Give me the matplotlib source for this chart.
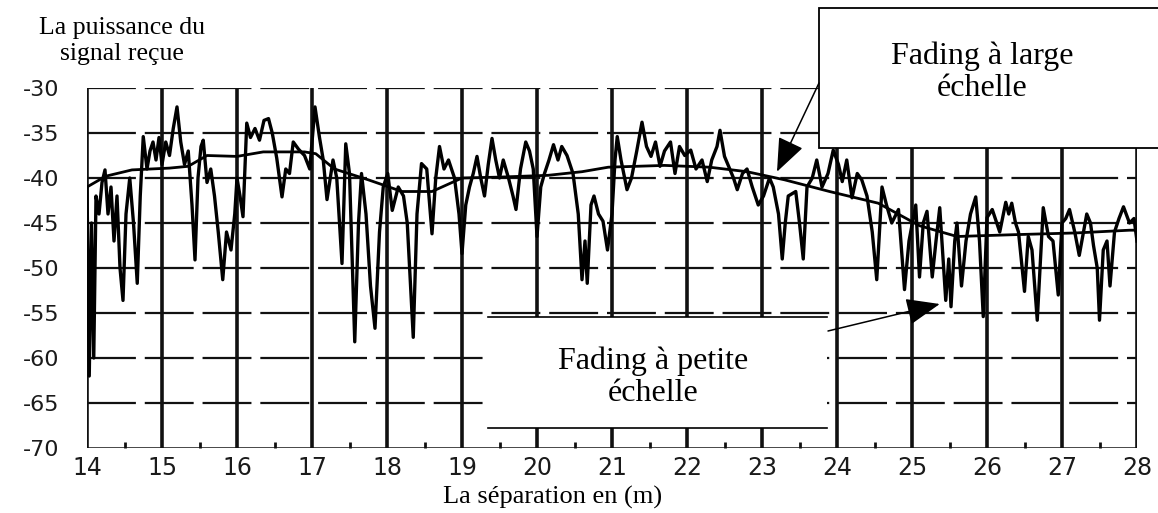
# reproduction du graphe fading a large / petite echelle
import numpy as np
import matplotlib
matplotlib.use("Agg")
import matplotlib.pyplot as plt
from matplotlib.patches import Rectangle, ConnectionPatch
from matplotlib.lines import Line2D

plt.rcParams['axes.unicode_minus'] = False

# separation (m) et puissance recue (dB) - fading a petite echelle
dist = [14.00, 14.03, 14.06, 14.09, 14.12, 14.16, 14.20, 14.24, 14.28, 14.32,
        14.36, 14.40, 14.44, 14.48, 14.52, 14.57, 14.62, 14.67, 14.71, 14.75,
        14.80, 14.84, 14.88, 14.92, 14.96, 15.00, 15.05, 15.10, 15.15, 15.20,
        15.25, 15.30, 15.35, 15.40, 15.44, 15.48, 15.52, 15.55, 15.60, 15.65,
        15.70, 15.75, 15.81, 15.86, 15.92, 15.97, 16.00, 16.04, 16.08, 16.13,
        16.18, 16.24, 16.30, 16.36, 16.42, 16.47, 16.53, 16.60, 16.65, 16.70,
        16.75, 16.82, 16.90, 16.97, 17.04, 17.10, 17.15, 17.20, 17.28, 17.33,
        17.40, 17.45, 17.50, 17.57, 17.62, 17.66, 17.72, 17.78, 17.84, 17.90,
        17.95, 18.01, 18.07, 18.15, 18.22, 18.27, 18.35, 18.40, 18.46, 18.53,
        18.60, 18.65, 18.70, 18.76, 18.82, 18.90, 18.96, 19.00, 19.05, 19.10,
        19.15, 19.20, 19.25, 19.30, 19.35, 19.40, 19.45, 19.50, 19.55, 19.62,
        19.68, 19.72, 19.78, 19.85, 19.90, 19.95, 20.00, 20.05, 20.10, 20.16,
        20.22, 20.28, 20.33, 20.40, 20.48, 20.55, 20.60, 20.64, 20.67, 20.72,
        20.76, 20.82, 20.88, 20.94, 21.00, 21.04, 21.07, 21.12, 21.20, 21.26,
        21.33, 21.40, 21.46, 21.52, 21.58, 21.64, 21.70, 21.78, 21.84, 21.90,
        21.97, 22.05, 22.12, 22.20, 22.27, 22.33, 22.40, 22.44, 22.50, 22.57,
        22.62, 22.67, 22.74, 22.80, 22.87, 22.95, 23.02, 23.10, 23.15, 23.22,
        23.27, 23.31, 23.35, 23.45, 23.50, 23.55, 23.60, 23.67, 23.73, 23.80,
        23.88, 23.95, 24.02, 24.07, 24.13, 24.20, 24.27, 24.33, 24.40, 24.47,
        24.53, 24.60, 24.66, 24.73, 24.82, 24.90, 24.96, 25.05, 25.10, 25.15,
        25.20, 25.27, 25.32, 25.37, 25.45, 25.49, 25.52, 25.57, 25.60, 25.66,
        25.72, 25.78, 25.85, 25.90, 25.95, 26.00, 26.07, 26.13, 26.17, 26.25,
        26.29, 26.33, 26.38, 26.42, 26.50, 26.55, 26.60, 26.67, 26.75, 26.82,
        26.88, 26.95, 27.00, 27.05, 27.10, 27.17, 27.23, 27.33, 27.38, 27.42,
        27.47, 27.50, 27.55, 27.60, 27.64, 27.70, 27.76, 27.82, 27.90, 27.96,
        28.00]
puissance = [-41.0, -62.0, -45.0, -60.0, -42.0, -44.0, -40.5, -39.1, -44.0, -41.0,
             -47.0, -42.0, -50.0, -53.6, -44.0, -40.0, -45.0, -51.7, -42.0, -35.4,
             -39.0, -37.0, -36.0, -38.0, -35.5, -38.5, -36.0, -37.5, -34.5, -32.1,
             -36.0, -38.5, -37.0, -43.0, -49.1, -40.0, -36.5, -35.8, -40.5, -39.0,
             -42.0, -46.0, -51.3, -46.0, -48.0, -44.0, -40.0, -42.0, -44.3, -33.9,
             -35.5, -34.5, -35.8, -33.6, -33.4, -35.0, -37.8, -42.1, -39.0, -39.5,
             -36.0, -36.8, -37.5, -39.0, -32.1, -35.5, -38.0, -42.4, -38.0, -40.0,
             -49.5, -36.2, -39.5, -58.2, -45.0, -39.5, -44.0, -52.0, -56.7, -46.0,
             -41.0, -39.5, -43.6, -41.0, -42.0, -45.0, -57.7, -44.0, -38.4, -39.0,
             -46.2, -40.0, -36.5, -39.0, -38.0, -40.0, -44.0, -48.4, -43.0, -41.0,
             -39.5, -37.6, -40.0, -42.0, -38.5, -35.6, -38.0, -40.0, -38.0, -40.0,
             -42.0, -43.5, -39.0, -36.0, -37.0, -39.0, -46.5, -41.0, -39.5, -38.0,
             -36.3, -38.0, -36.5, -37.5, -39.5, -44.0, -51.3, -47.0, -51.7, -43.0,
             -42.0, -44.0, -44.8, -48.0, -44.0, -38.0, -35.4, -38.0, -41.3, -40.0,
             -37.0, -33.8, -36.5, -37.6, -36.0, -38.7, -37.0, -36.0, -39.5, -36.5,
             -37.5, -36.9, -39.0, -38.0, -40.4, -38.0, -36.5, -34.7, -37.6, -39.0,
             -40.0, -41.3, -39.5, -39.0, -41.0, -43.0, -42.0, -40.0, -41.0, -44.0,
             -49.0, -45.0, -42.0, -41.5, -45.0, -49.0, -41.0, -40.0, -38.0, -41.0,
             -39.5, -36.9, -38.5, -40.4, -38.0, -42.2, -39.5, -40.2, -42.0, -46.0,
             -51.3, -41.0, -43.0, -45.0, -43.5, -52.4, -47.0, -43.0, -51.0, -45.0,
             -43.7, -51.0, -47.0, -43.3, -53.6, -49.0, -54.3, -47.0, -45.0, -52.0,
             -47.0, -44.0, -42.1, -47.0, -55.4, -44.4, -43.5, -45.0, -46.0, -42.7,
             -44.0, -42.8, -45.0, -46.0, -52.6, -46.5, -48.0, -55.8, -43.3, -46.5,
             -47.0, -53.0, -45.0, -44.5, -43.5, -46.0, -48.6, -44.0, -45.0, -47.5,
             -50.0, -55.8, -48.0, -47.0, -52.0, -46.0, -44.5, -43.2, -45.0, -44.5,
             -47.0]

# moyenne locale - fading a large echelle
dist_moy = [14.0, 14.25, 14.6, 15.1, 15.35, 15.6, 16.0, 16.35, 16.9, 17.05,
            17.3, 17.75, 18.2, 18.6, 19.0, 19.5, 20.15, 20.6, 20.95, 21.7,
            22.3, 22.8, 23.3, 23.9, 24.55, 25.1, 25.6, 26.35, 27.2, 27.9, 28.0]
puissance_moy = [-41.0, -39.8, -39.1, -38.9, -38.7, -37.5, -37.6, -37.1, -37.1, -37.3,
                 -39.0, -40.2, -41.5, -41.5, -40.0, -39.9, -39.7, -39.3, -38.8, -38.6,
                 -38.8, -39.3, -40.2, -41.5, -42.8, -45.3, -46.5, -46.3, -46.1, -45.8,
                 -45.8]

xticks = list(range(14, 29))
yticks = [-30, -35, -40, -45, -50, -55, -60, -65, -70]

W, H = 1158, 513
fig = plt.figure(figsize=(W / 100, H / 100), dpi=100)
ax = fig.add_axes([87 / W, 1 - 448 / H, (1137 - 87) / W, (448 - 88) / H])

# grille : verticales pleines et epaisses, horizontales en tirets
for xv in xticks:
    ax.axvline(xv, color='#111111', lw=2.6, zorder=1)
for yv in yticks[:-1]:
    ax.axhline(yv, color='#111111', lw=1.6, ls=(0, (22, 4)), zorder=1)
ax.axhline(-70, color='#111111', lw=1.8, zorder=1)

ax.plot(dist, puissance, color='black', lw=2.4, zorder=3)
ax.plot(dist_moy, puissance_moy, color='black', lw=2.0, zorder=4)

ax.set_xlim(14, 28)
ax.set_ylim(-70, -30)
for s in ax.spines.values():
    s.set_visible(False)
ax.set_xticks(xticks)
ax.set_xticklabels([str(v) for v in xticks], fontsize=17, color='#1a1a1a',
                   family='DejaVu Sans')
ax.set_yticks(yticks)
ax.set_yticklabels([str(v) for v in yticks], fontsize=16, color='#1a1a1a',
                   family='DejaVu Sans')
ax.set_xticks([v + 0.5 for v in xticks[:-1]], minor=True)
ax.tick_params(axis='x', which='major', length=0, pad=6)
ax.tick_params(axis='x', which='minor', direction='in', length=4, width=2, color='#111111')
ax.tick_params(axis='y', length=0, pad=20)

serif = 'Liberation Serif'
fig.text(122 / W, 1 - 41 / H, "La puissance du\nsignal reçue", family=serif,
         fontsize=18.5, ha='center', va='center', linespacing=1.2)
fig.text(553 / W, 1 - 497 / H, "La séparation en (m)", family=serif,
         fontsize=19, ha='center', va='center')

# encadre "large echelle"
fig.add_artist(Rectangle((819 / W, 1 - 148 / H), (1220 - 819) / W, 140 / H,
                         transform=fig.transFigure, facecolor='white',
                         edgecolor='black', lw=1.3, zorder=5))
fig.text(982 / W, 1 - 72 / H, "Fading à large\néchelle", family=serif,
         fontsize=23, ha='center', va='center', linespacing=1.15, zorder=6)

# encadre "petite echelle" (seulement traits haut et bas)
fig.add_artist(Rectangle((488 / W, 1 - 428 / H), (827 - 488) / W, (428 - 317) / H,
                         transform=fig.transFigure, facecolor='white',
                         edgecolor='none', zorder=5))
for yl in (317, 428):
    fig.add_artist(Line2D([488 / W, 827 / W], [1 - yl / H, 1 - yl / H],
                          transform=fig.transFigure, color='black', lw=1.2, zorder=6))
fig.text(653 / W, 1 - 377 / H, "Fading à petite\néchelle", family=serif,
         fontsize=23, ha='center', va='center', linespacing=1.15, zorder=6)

# fleches
fleche1 = ConnectionPatch(xyA=(819, H - 83), coordsA='figure pixels',
                          xyB=(23.2, -39.3), coordsB=ax.transData,
                          arrowstyle='-|>,head_length=1.5,head_width=0.6',
                          mutation_scale=14, color='black', lw=1.1, zorder=7)
fig.add_artist(fleche1)
fleche2 = ConnectionPatch(xyA=(828, H - 331), coordsA='figure pixels',
                          xyB=(25.37, -54.0), coordsB=ax.transData,
                          arrowstyle='-|>,head_length=1.5,head_width=0.6',
                          mutation_scale=14, color='black', lw=1.1, zorder=7)
fig.add_artist(fleche2)

fig.savefig('out.png', dpi=100)
